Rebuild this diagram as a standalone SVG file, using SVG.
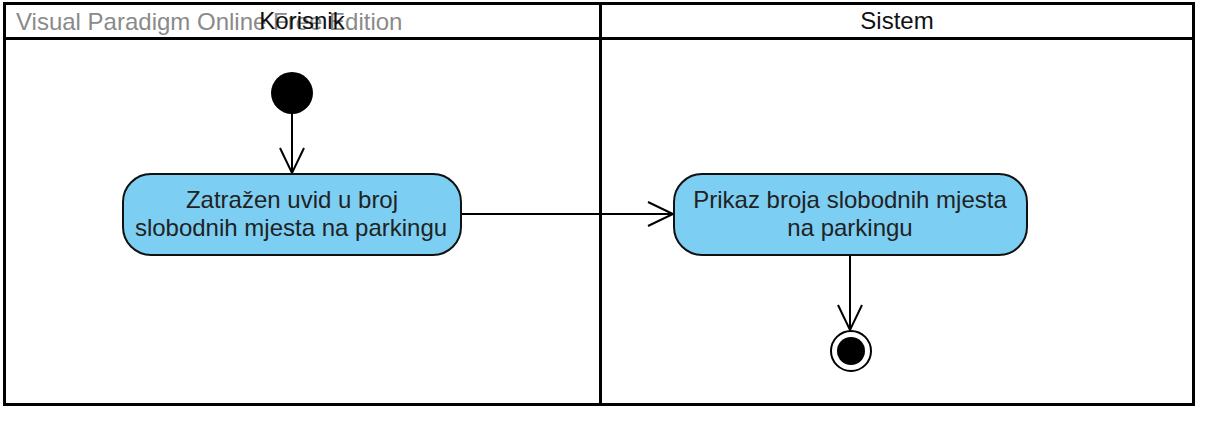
<svg xmlns="http://www.w3.org/2000/svg" width="1205" height="426" viewBox="0 0 1205 426">
<style>
.frame{fill:none;stroke:#000;stroke-width:3}
.wm{font-family:"Liberation Sans",Arial,sans-serif;font-size:24px;fill:#8a8a8a}
.lane{font-family:"Liberation Sans",Arial,sans-serif;font-size:24px;fill:#111;text-anchor:middle}
.act{fill:#7ccff3;stroke:#111;stroke-width:2}
.actt{font-family:"Liberation Sans",Arial,sans-serif;font-size:24px;fill:#222;text-anchor:middle}
.conn{fill:none;stroke:#000;stroke-width:2}
</style>
<defs>
<marker id="open" markerUnits="userSpaceOnUse" markerWidth="30" markerHeight="30" viewBox="-27 -14 30 28" refX="0" refY="0" orient="auto" overflow="visible">
<path d="M-25,-12 L0,0 L-25,12" fill="none" stroke="#000" stroke-width="2"/>
</marker>
</defs>
<rect width="1205" height="426" fill="#fff"/>
<g id="swimlanes">
<rect class="frame" x="4.5" y="3.5" width="1189" height="401"/>
<line class="frame" x1="4.5" y1="38.5" x2="1193.5" y2="38.5"/>
<line class="frame" x1="600.5" y1="3.5" x2="600.5" y2="404.5"/>
<text class="wm" x="16" y="30">Visual Paradigm Online Free Edition</text>
<text class="lane" x="302" y="29">Korisnik</text>
<text class="lane" x="897" y="29">Sistem</text>
</g>
<g id="connectors">
<line class="conn" x1="292" y1="114" x2="292" y2="173" marker-end="url(#open)"/>
<line class="conn" x1="461" y1="214" x2="673" y2="214" marker-end="url(#open)"/>
<line class="conn" x1="850" y1="255" x2="850" y2="330" marker-end="url(#open)"/>
</g>
<g id="initial">
<circle cx="292" cy="93" r="21" fill="#000"/>
</g>
<g id="action1">
<rect class="act" x="123" y="174" width="338" height="81" rx="28" ry="28"/>
<text class="actt" x="292" y="208">Zatražen uvid u broj</text>
<text class="actt" x="291" y="236">slobodnih mjesta na parkingu</text>
</g>
<g id="action2">
<rect class="act" x="674" y="174" width="353" height="81" rx="28" ry="28"/>
<text class="actt" x="850" y="208">Prikaz broja slobodnih mjesta</text>
<text class="actt" x="850" y="236">na parkingu</text>
</g>
<g id="final">
<circle cx="851" cy="351" r="20" fill="#fff" stroke="#000" stroke-width="2"/>
<circle cx="851" cy="351" r="14" fill="#000"/>
</g>
</svg>
